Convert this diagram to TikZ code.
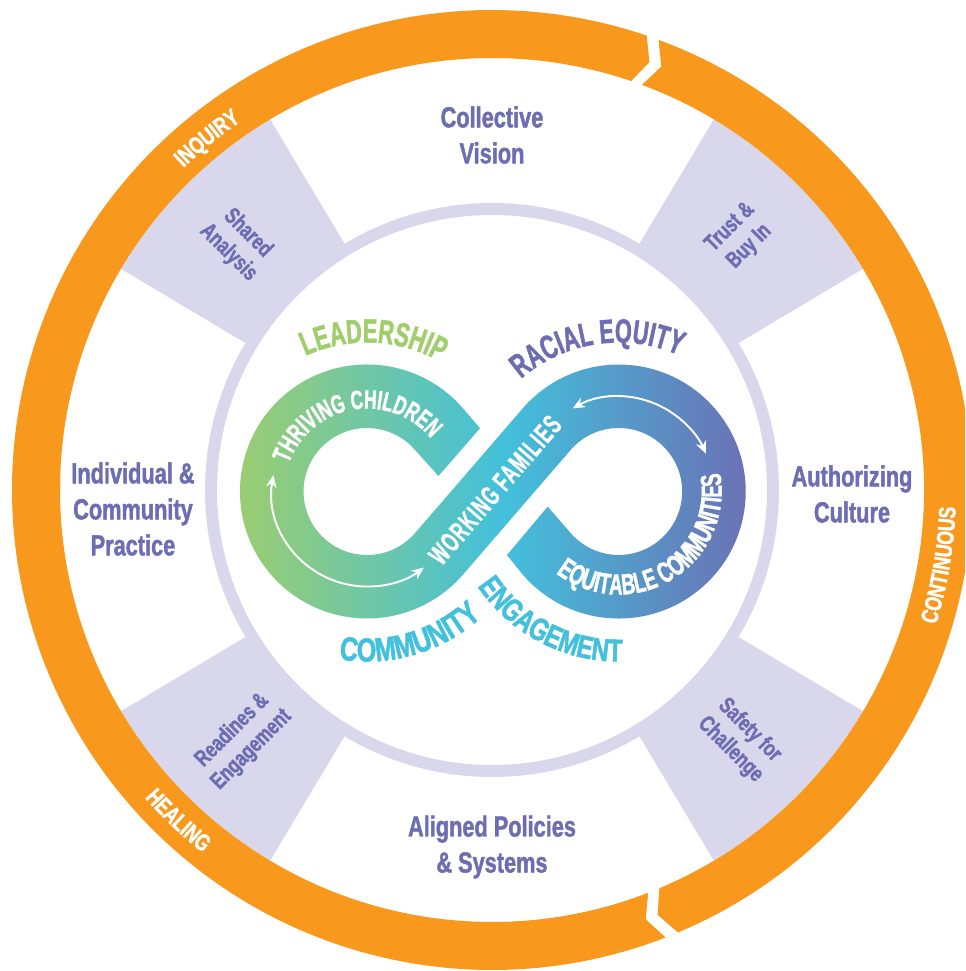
\documentclass[tikz,border=0pt]{standalone}
\usepackage{fontspec}
\usetikzlibrary{arrows.meta,decorations.text}
\newfontfamily\labelfont[FakeStretch=0.75,FakeBold=1.5]{Liberation Sans Bold}
\newfontfamily\headfont[FakeStretch=0.65,FakeBold=1.5]{Liberation Sans Bold}
\newfontfamily\bandfont[FakeStretch=0.6,FakeBold=1,LetterSpace=5]{Liberation Sans Bold}
\definecolor{ringorange}{HTML}{F8981D}
\definecolor{lavender}{HTML}{D9D7EC}
\definecolor{slatepurple}{HTML}{6D6DB2}
\definecolor{leafgreen}{HTML}{9FCE6B}
\definecolor{skycyan}{HTML}{42C0DC}
\pgfdeclarehorizontalshading{bandshade}{100bp}{color(0bp)=(leafgreen); color(25bp)=(leafgreen); color(51bp)=(skycyan); color(75bp)=(slatepurple); color(100bp)=(slatepurple)}

\begin{document}
\begin{tikzpicture}[x=0.02cm,y=0.02cm]
	\tikzstyle{wheeltext} = [text=slatepurple, align=center, font=\labelfont\fontsize{16.5}{20.5}\selectfont]
	\tikzstyle{wedgetext} = [text=slatepurple, align=center, font=\labelfont\fontsize{13}{15.5}\selectfont]
	\tikzstyle{bandarrow} = [white, line width=1.1pt, {Stealth[length=7pt,width=6pt]}-{Stealth[length=7pt,width=6pt]}]
	\clip (-492,-481) rectangle (473,490);
	% lavender wedges and inner ring
	\foreach \a in {30.8,120.9,210.8,300.9}
		\fill[lavender] (\a:280) arc[start angle=\a, end angle=\a+28.3, radius=280] -- ({\a+28.3}:432) arc[start angle=\a+28.3, end angle=\a, radius=432] -- cycle;
	\fill[white] (0,0) circle[radius=287];
	\fill[lavender, even odd rule] (0,0) circle[radius=287] (0,0) circle[radius=275];
	% orange ring, three segments
	\fill[ringorange] (180:480) arc[start angle=180, end angle=71.2, radius=480] -- (69.8:456) -- (71.2:432) arc[start angle=71.2, end angle=179.9, radius=432] -- (178.5:456) -- cycle;
	\fill[ringorange] (69.7:480) arc[start angle=69.7, end angle=-67.2, radius=480] -- (-68.7:456) -- (-67.2:432) arc[start angle=-67.2, end angle=69.7, radius=432] -- (68.2:456) -- cycle;
	\fill[ringorange] (291.2:480) arc[start angle=291.2, end angle=178.5, radius=480] -- (177:456) -- (178.4:432) arc[start angle=178.4, end angle=291.2, radius=432] -- (289.7:456) -- cycle;
	% infinity band
	\shade[shading=bandshade] (-12,61.7) -- (-28.9,81.5) arc[start angle=40.8, end angle=319.2, radius=127]
		-- (78.6,40) arc[start angle=139.2, end angle=-139.2, radius=63.5]
		-- (55.7,-16.7) -- (15,-65) -- (30.6,-84.5) arc[start angle=220.8, end angle=499.2, radius=127]
		-- (-76.9,-43) arc[start angle=319.2, end angle=40.8, radius=63.5]
		-- (-53.5,14) -- cycle;
	\draw[bandarrow, shift={(-125,-1.5)}] (170:95) arc[start angle=170, end angle=306.8, radius=95];
	\draw[bandarrow, shift={(126.7,-1.5)}] (119:95) arc[start angle=119, end angle=23.5, radius=95];
	% wheel labels
	\node (vision) [wheeltext] at (0,355) {Collective\\Vision};
	\node (culture) [wheeltext] at (360,-4) {Authorizing\\Culture};
	\node (systems) [wheeltext] at (0,-357) {Aligned Policies\\\& Systems};
	\node (practice) [wheeltext] at (-359,-19) {Individual \&\\Community\\Practice};
	\node (analysis) [wedgetext, rotate=-45] at (-254,247) {Shared\\Analysis};
	\node (trust) [wedgetext, rotate=45] at (248,253) {Trust \&\\Buy In};
	\node (readiness) [wedgetext, rotate=45] at (-250,-250) {Readines \&\\Engagement};
	\node (safety) [wedgetext, rotate=-45] at (248,-250) {Safety for\\Challenge};
	\node (families) [text=white, font=\bandfont\fontsize{16}{16}\selectfont, rotate=49.2] at (3,0) {WORKING FAMILIES};
	% curved text
	\path[decorate, decoration={text along path, text align=center, text={|\headfont\fontsize{15}{15}\selectfont\color{white}|THRIVING CHILDREN}}, shift={(-125,-1.5)}] (175:83) arc[start angle=175, end angle=25, radius=83];
	\path[decorate, decoration={text along path, text align=center, text={|\headfont\fontsize{16.5}{16.5}\selectfont\color{white}|EQUITABLE COMMUNITIES}}, shift={(126.7,-1.5)}] (218:103) arc[start angle=218, end angle=385, radius=103];
	\path[decorate, decoration={text along path, text align=center, text={|\headfont\fontsize{19}{19}\selectfont\color{leafgreen}|LEADERSHIP}}, shift={(-125,-1.5)}] (125:149) arc[start angle=125, end angle=50, radius=149];
	\path[decorate, decoration={text along path, text align=center, text={|\headfont\fontsize{19}{19}\selectfont\color{slatepurple}|RACIAL EQUITY}}, shift={(126.7,-1.5)}] (140:149) arc[start angle=140, end angle=57, radius=149];
	\path[decorate, decoration={text along path, text align=center, text={|\labelfont\fontsize{19}{19}\selectfont\color{skycyan}|COMMUNITY}}, shift={(-125,-1.5)}] (250:170) arc[start angle=250, end angle=323, radius=170];
	\path[decorate, decoration={text along path, text align=center, text={|\labelfont\fontsize{18}{18}\selectfont\color{skycyan}|ENGAGEMENT}}, shift={(126.7,-1.5)}] (205:170) arc[start angle=205, end angle=280, radius=170];
	\path[decorate, decoration={text along path, text align=center, text={|\labelfont\fontsize{13.5}{13.5}\selectfont\color{white}|INQUIRY}}] (139:446) arc[start angle=139, end angle=119, radius=446];
	\path[decorate, decoration={text along path, text align=center, text={|\labelfont\fontsize{13.5}{13.5}\selectfont\color{white}|CONTINUOUS}}] (-20:464) arc[start angle=-20, end angle=1, radius=464];
	\path[decorate, decoration={text along path, text align=center, text={|\labelfont\fontsize{13.5}{13.5}\selectfont\color{white}|HEALING}}] (216:464) arc[start angle=216, end angle=237, radius=464];
\end{tikzpicture}
\end{document}
